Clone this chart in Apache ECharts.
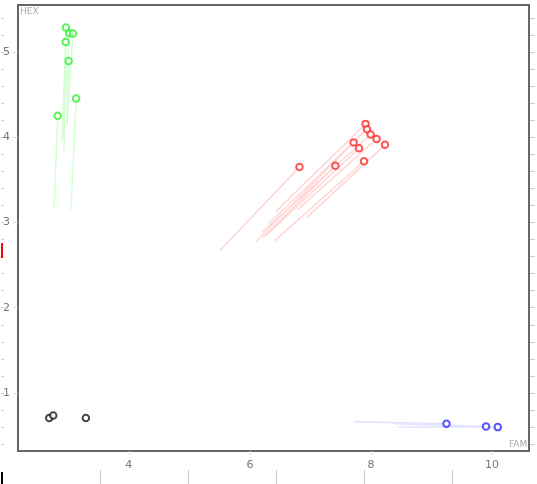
<!DOCTYPE html>
<html><head><meta charset="utf-8">
<script src="https://cdn.jsdelivr.net/npm/echarts@6/dist/echarts.min.js"></script>
<style>html,body{margin:0;padding:0;background:#fff}#c{width:537px;height:484px}</style>
</head><body><div id="c"></div>
<script>
// ---- data ----
const greenX = [2.962, 3.016, 3.077, 2.957, 3.006, 3.131, 2.825];
const greenY = [5.285, 5.219, 5.215, 5.117, 4.894, 4.453, 4.250];
const greenTailX = [2.929, 2.912, 2.978, 2.896, 2.978, 3.044, 2.767];
const greenTailY = [3.851, 4.004, 4.144, 3.968, 4.168, 3.148, 3.171];

const redX = [7.911, 7.934, 7.994, 8.093, 8.231, 7.714, 7.803, 7.885, 7.412, 6.819];
const redY = [4.156, 4.094, 4.031, 3.980, 3.910, 3.937, 3.871, 3.718, 3.664, 3.649];
const redTailX = [6.423, 6.308, 6.209, 6.786, 6.950, 6.093, 6.258, 6.407, 6.209, 5.500];
const redTailY = [3.124, 2.984, 2.890, 3.148, 3.066, 2.773, 2.843, 2.784, 2.819, 2.667];

const blueX = [9.247, 9.901, 10.094];
const blueY = [0.639, 0.607, 0.600];
const blueTailX = [7.725, 8.384, 8.450];
const blueTailY = [0.662, 0.639, 0.604];

const blackX = [2.686, 2.752, 3.291];
const blackY = [0.706, 0.736, 0.706];

const xTicks = [4, 6, 8, 10];
const yTicks = [1, 2, 3, 4, 5];
const yMinorTicks = [0.4,0.6,0.8,1.0,1.2,1.4,1.6,1.8,2.0,2.2,2.4,2.6,2.8,3.0,3.2,3.4,3.6,3.8,4.0,4.2,4.4,4.6,4.8,5.0,5.2,5.4];
const bottomDecoTicks = [100, 188, 276, 364, 452];

// ---- build ----
function pts(xs, ys) { return xs.map((x, i) => [x, ys[i]]); }
function tails(xs, ys, tx, ty) { return xs.map((x, i) => ({ coords: [[tx[i], ty[i]], [x, ys[i]]] })); }

const groups = [
  { x: greenX, y: greenY, tx: greenTailX, ty: greenTailY, c: '#2ff02f', tc: '#d4ffd4' },
  { x: redX, y: redY, tx: redTailX, ty: redTailY, c: '#ff2a2a', tc: '#ffd6d6' },
  { x: blueX, y: blueY, tx: blueTailX, ty: blueTailY, c: '#2a2aff', tc: '#e2e2ff' },
  { x: blackX, y: blackY, c: '#1a1a1a' }
];

const series = [];
groups.forEach(g => {
  if (g.tx) {
    series.push({
      type: 'lines', coordinateSystem: 'cartesian2d', xAxisIndex: 0, yAxisIndex: 0,
      data: tails(g.x, g.y, g.tx, g.ty), silent: true, z: 1,
      lineStyle: { color: g.tc, width: 1.5, opacity: 1 }
    });
  }
  series.push({
    type: 'scatter', xAxisIndex: 0, yAxisIndex: 0, data: pts(g.x, g.y), z: 3,
    symbol: 'emptyCircle', symbolSize: 6.5,
    itemStyle: { color: g.c, borderColor: g.c, borderWidth: 2 }
  });
});

const labelStyle = { color: '#777', fontSize: 11, fontFamily: 'DejaVu Sans, sans-serif' };

const option = {
  animation: false,
  grid: [
    { left: 17, top: 5, right: 8, bottom: 33, show: true, borderColor: '#666', borderWidth: 2, backgroundColor: 'transparent' },
    { left: 0, right: 0, top: 470, bottom: 0, show: false }
  ],
  xAxis: [
    { type: 'value', gridIndex: 0, min: 2.17, max: 10.61, position: 'bottom',
      splitLine: { show: false }, axisLine: { show: false },
      axisTick: { show: true, length: 4, customValues: xTicks, lineStyle: { color: '#ddd' } },
      axisLabel: Object.assign({ customValues: xTicks, margin: 9 }, labelStyle) },
    { type: 'value', gridIndex: 1, min: 0, max: 537, position: 'bottom',
      splitLine: { show: false }, axisLine: { show: false }, axisLabel: { show: false },
      axisTick: { show: true, inside: true, length: 14, customValues: bottomDecoTicks, lineStyle: { color: '#c8c8c8' } } },
    { type: 'value', gridIndex: 1, min: 0, max: 537, position: 'bottom',
      splitLine: { show: false }, axisLine: { show: false }, axisLabel: { show: false },
      axisTick: { show: true, inside: true, length: 12, customValues: [1.5], lineStyle: { color: '#000', width: 2 } } }
  ],
  yAxis: [
    { type: 'value', gridIndex: 0, min: 0.32, max: 5.55, position: 'left',
      splitLine: { show: false }, axisLine: { show: false },
      axisTick: { show: true, length: 5, customValues: yTicks, lineStyle: { color: '#ddd' } },
      axisLabel: Object.assign({ customValues: yTicks, margin: 8 }, labelStyle) },
    { type: 'value', gridIndex: 0, min: 0.32, max: 5.55, position: 'left', offset: 14,
      splitLine: { show: false }, axisLine: { show: false }, axisLabel: { show: false },
      axisTick: { show: true, length: 3, customValues: yMinorTicks, lineStyle: { color: '#cfcfcf' } } },
    { type: 'value', gridIndex: 0, min: 0.32, max: 5.55, position: 'right', offset: 1,
      splitLine: { show: false }, axisLine: { show: false }, axisLabel: { show: false },
      axisTick: { show: true, length: 5, customValues: yMinorTicks, lineStyle: { color: '#c8c8c8' } } },
    { type: 'value', gridIndex: 0, min: 0.32, max: 5.55, position: 'left', offset: 15,
      splitLine: { show: false }, axisLine: { show: false }, axisLabel: { show: false },
      axisTick: { show: true, length: 2, customValues: [2.671], lineStyle: { color: '#ff0000', width: 15 } } },
    { type: 'value', gridIndex: 1, min: 0, max: 1, show: false }
  ],
  graphic: [
    { type: 'text', left: 20, top: 7, style: { text: 'HEX', fill: '#aaa', fontSize: 9, fontFamily: 'DejaVu Sans, sans-serif' } },
    { type: 'text', left: 509, top: 440, style: { text: 'FAM', fill: '#aaa', fontSize: 9, fontFamily: 'DejaVu Sans, sans-serif' } }
  ],
  series: series
};

const chart = echarts.init(document.getElementById('c'), null, { renderer: 'canvas' });
chart.setOption(option);
</script>
</body></html>
